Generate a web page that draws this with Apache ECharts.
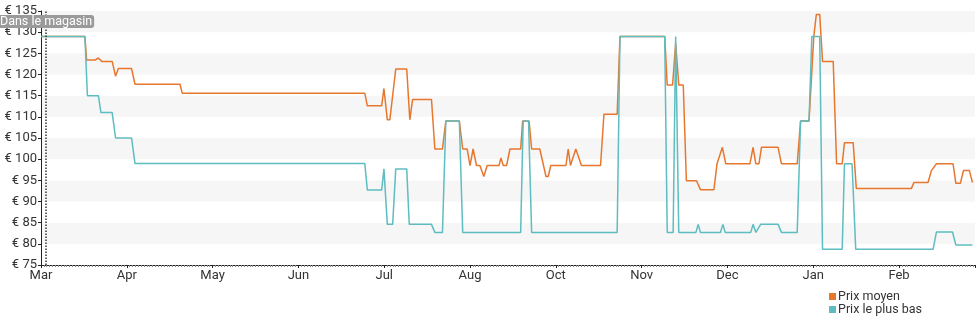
<!DOCTYPE html>
<html>
<head>
<meta charset="utf-8">
<script src="https://cdn.jsdelivr.net/npm/echarts@6/dist/echarts.min.js"></script>
<style>
html,body{margin:0;padding:0;background:#fff;}
#chart{width:980px;height:325px;}
</style>
</head>
<body>
<div id="chart"></div>
<script>
// Day offsets from the start of the axis (1 March)
var monthLabels = ['Mar','Apr','May','Jun','Jul','Aug','Oct','Nov','Dec','Jan','Feb'];
var yTickValues = [75,80,85,90,95,100,105,110,115,120,125,130,135];

var moyenDays = [0,15.6,16.2,19.2,20.4,21.6,25.3,26.5,27.5,32.2,33.4,49.4,50.2,115.1,116,121.1,121.9,123.1,124,126.1,130,131.1,132.1,138.8,140,142.7,143.9,148.7,149.9,151.5,152.5,153.6,154.8,156,157.4,158.6,162.8,163.5,164.3,165.5,166.7,170.5,171.2,173.5,174.4,177.3,179.5,180.3,181.2,186.6,187.4,188.2,190.1,190.6,192.1,198.9,200.1,204.8,205.8,221.7,222.6,224.5,225.6,226.7,228.3,229.4,233,233.6,234.4,239.2,240.3,241,242.2,243.4,252,253.1,254.1,255.2,256.1,262,263.2,268.8,270,273,274.7,275.6,276.8,277.8,281.6,282.8,284.8,285.6,288.7,289.8,309.4,310.3,315.3,316.5,318.3,324.2,325.2,326.8,327.9,330,331.1];
var moyenValues = [129,129,123.4,123.4,123.9,123.1,123.1,119.6,121.4,121.4,117.7,117.7,115.6,115.6,112.6,112.6,116.7,109.3,109.3,121.3,121.3,109.3,114.1,114.1,102.4,102.4,109,109,102.4,102.4,98.5,102.4,98.5,98.5,95.9,98.5,98.5,100.3,98.5,98.5,102.4,102.4,109,109,102.4,102.4,95.9,95.9,98.5,98.5,102.4,98.5,102.4,102.4,98.5,98.5,110.6,110.6,129,129,117.5,117.5,127.3,117.5,117.5,94.9,94.9,95.3,92.8,92.8,98.9,98.9,102.8,98.9,98.9,102.8,98.9,98.9,102.8,102.8,98.9,98.9,109,109,129,134.2,134.2,123.1,123.1,98.9,98.9,103.9,103.9,93.1,93.1,94.5,94.5,97.3,98.9,98.9,94.3,94.3,97.3,97.3,94.5];

var basDays = [0,15.6,16.5,20.4,21.3,25.3,26.5,32.2,33.4,115.1,116,121.1,121.9,123.1,125,126.1,130,130.9,138.8,140,142.7,143.9,148.7,149.9,170.5,171.4,173.3,174.4,204.8,205.8,221.7,222.6,224.7,225.6,226.7,232.8,233.6,234.4,241.5,242.4,243.2,252.3,253.1,254.1,255.8,262,263.2,268.8,270,273,274,276.8,277.8,284.8,285.6,288.3,289.6,317.1,318.3,324,325.2,331.1];
var basValues = [129,129,115,115,111,111,105,105,99,99,92.7,92.7,97.7,84.6,84.6,97.7,97.7,84.6,84.6,82.7,82.7,109,109,82.7,82.7,109,109,82.7,82.7,129,129,82.7,82.7,129,82.7,82.7,84.6,82.7,82.7,84.6,82.7,82.7,84.6,82.7,84.6,84.6,82.7,82.7,109,109,129,129,78.7,78.7,98.9,98.9,78.7,78.7,82.8,82.8,79.7,79.7];

var storeDay = 1.8;
var monthStep = 30.5;

function pairs(xs, ys){ return xs.map(function(x,i){ return [x, ys[i]]; }); }

var chart = echarts.init(document.getElementById('chart'), null, {renderer:'canvas'});
var font = 'Roboto';
chart.setOption({
  animation: false,
  textStyle: {fontFamily: font},
  grid: {left: 41, right: 5, top: 11, bottom: 60, containLabel: false},
  legend: {
    orient: 'vertical', left: 829, top: 290, itemGap: 0, padding: 0,
    itemWidth: 7, itemHeight: 7, icon: 'rect',
    textStyle: {fontSize: 12.5, color: '#333', fontFamily: font, lineHeight: 13, padding: [0,0,0,-3]},
    data: ['Prix moyen', 'Prix le plus bas']
  },
  xAxis: {
    type: 'value', min: 0, max: 332, interval: monthStep,
    axisLine: {show: true, lineStyle: {color: '#222', width: 1}},
    axisTick: {show: true, length: 3, lineStyle: {color: '#222'}},
    minorTick: {show: true, splitNumber: 30, length: 2, lineStyle: {color: '#888'}},
    splitLine: {show: false},
    axisLabel: {
      color: '#333', fontSize: 13, margin: 4, fontFamily: font,
      showMaxLabel: false,
      formatter: function(v){
        var i = Math.round(v / monthStep);
        if (Math.abs(v - i*monthStep) > 0.01) return '';
        return monthLabels[i] || '';
      }
    }
  },
  yAxis: {
    type: 'value', min: yTickValues[0], max: yTickValues[yTickValues.length-1], interval: 5,
    axisLine: {show: true, lineStyle: {color: '#222', width: 1}},
    axisTick: {show: true, length: 3, lineStyle: {color: '#222'}},
    splitLine: {show: false},
    splitArea: {show: true, areaStyle: {color: ['#ffffff', '#f6f6f6']}},
    axisLabel: {color: '#333', fontSize: 13, margin: 4, fontFamily: font,
      formatter: function(v){ return '€ ' + v; }}
  },
  series: [
    {
      name: 'Prix moyen', type: 'line', data: pairs(moyenDays, moyenValues),
      symbol: 'none', lineStyle: {color: '#E8772E', width: 1.5}, itemStyle: {color: '#E8772E'},
      markLine: {
        silent: true, symbol: ['none','none'],
        lineStyle: {color: '#333', type: 'dotted', width: 1.5},
        label: {
          show: true, position: 'end', distance: -17,
          formatter: 'Dans le magasin', color: '#fff', fontSize: 12.5, fontFamily: font,
          backgroundColor: '#9a9a9a', borderRadius: 3, padding: [0, 2, 0, 2], lineHeight: 13
        },
        data: [{xAxis: storeDay}]
      }
    },
    {
      name: 'Prix le plus bas', type: 'line', data: pairs(basDays, basValues),
      symbol: 'none', lineStyle: {color: '#5DBDC0', width: 1.5}, itemStyle: {color: '#5DBDC0'}
    }
  ]
});
</script>
</body>
</html>
